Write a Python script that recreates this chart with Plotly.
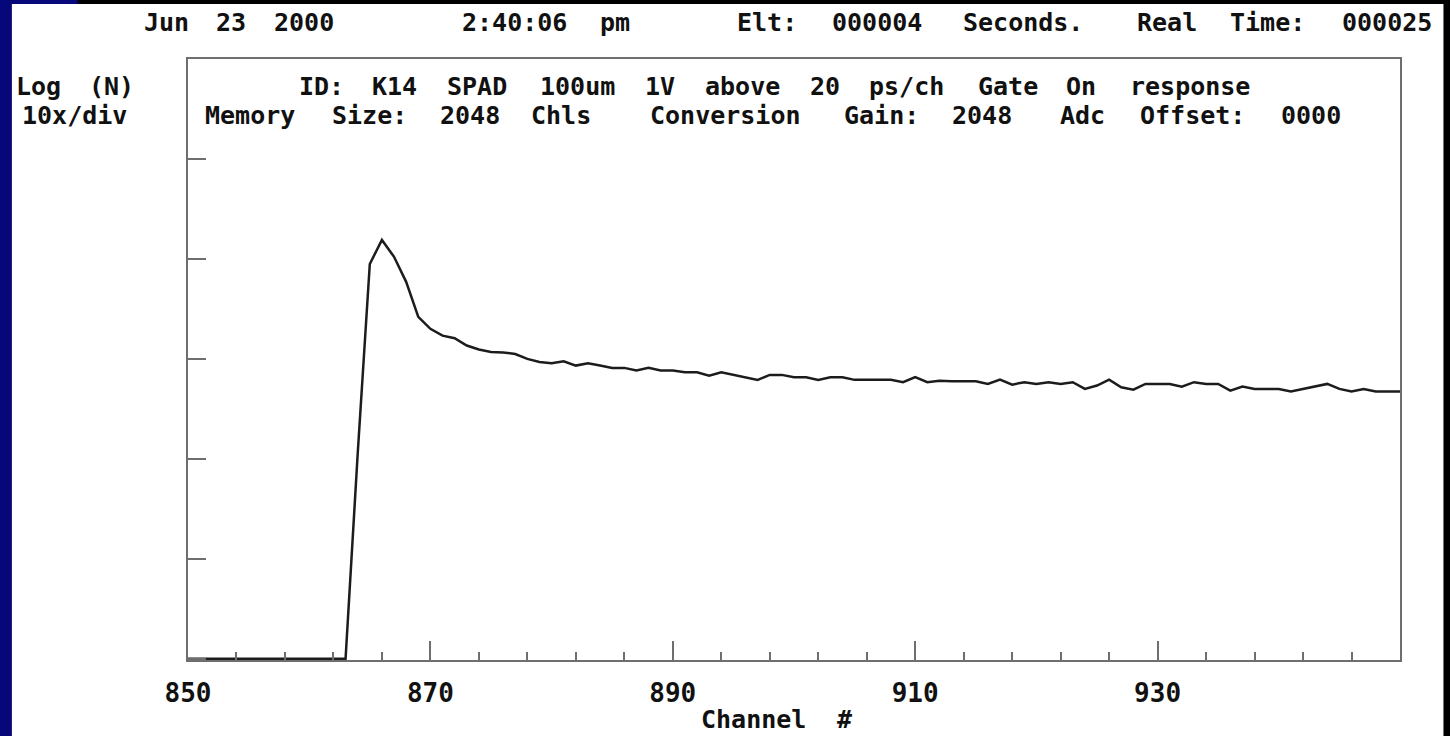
import re
import plotly.graph_objects as go

# ---------------- data ----------------
channels = list(range(850, 951))
counts = [
    1, 1, 1, 1, 1, 1, 1, 1, 1, 1, 1, 1, 1, 1,          # 850-863 (empty)
    112, 8900, 15500, 10500, 5900, 2630,                # 864-869
    2000, 1710, 1610, 1360, 1240, 1175, 1160, 1120, 1000, 933,   # 870-879
    906, 948, 857, 906, 857, 813, 813, 764, 813, 764,   # 880-889
    764, 736, 736, 681, 736, 692, 656, 617, 692, 692,   # 890-899
    656, 656, 617, 656, 656, 617, 617, 617, 617, 585,   # 900-909
    656, 585, 603, 598, 598, 598, 562, 621, 553, 585,   # 910-919
    562, 585, 562, 585, 501, 541, 621, 521, 493, 562,   # 920-929
    562, 562, 528, 585, 562, 562, 482, 528, 501, 501,   # 930-939
    501, 471, 501, 528, 562, 501, 471, 501, 471, 471,   # 940-949
    471,                                                # 950
]

x_major_ticks = [850, 870, 890, 910, 930, 950]
x_major_labels = ["850", "870", "890", "910", "930", ""]
y_decades = [1, 10, 100, 1000, 10000, 100000, 1000000]

header_texts = ["Jun 23 2000", "2:40:06 pm", "Elt: 000004 Seconds.", "Real Time: 000025"]
y_label_lines = ["Log (N)", "10x/div"]
id_line = "ID: K14 SPAD 100um 1V above 20 ps/ch Gate On response"
info_line = "Memory Size: 2048 Chls  Conversion Gain: 2048  Adc Offset: 0000"
x_title = "Channel #"

# ---------------- geometry ----------------
FIG_W, FIG_H = 1450, 736
L, R, T, B = 187.5, 49.5, 59, 76
PW = FIG_W - L - R
PH = FIG_H - T - B
CELL = 18.3

FONT = "DejaVu Sans Mono"
TXT = "#111111"
FRAME = "#6e6e6e"
FS = 25


def px_x(px):
    return (px - L) / PW


def px_y(py):
    return (FIG_H - B - py) / PH


annotations = []


def place_words(text, cell_x, y_center, size=FS):
    for m in re.finditer(r"\S+", text):
        word = m.group(0)
        cx = cell_x + (m.start() + len(word) / 2.0) * CELL
        annotations.append(dict(
            x=px_x(cx), y=px_y(y_center), xref="paper", yref="paper",
            text=word, showarrow=False, xanchor="center", yanchor="middle",
            font=dict(family=FONT, size=size, color=TXT, weight="bold"),
        ))


header_cells = [139, 450, 730.5, 1131]
for t, cx in zip(header_texts, header_cells):
    place_words(t, cx, 22)
place_words(y_label_lines[0], 10, 87)
place_words(y_label_lines[1], 10, 115)
place_words(id_line, 294, 87)
place_words(info_line, 195, 115)
place_words(x_title, 689, 719)

shapes = [
    # white slide area
    dict(type="rect", xref="paper", yref="paper", layer="below",
         x0=px_x(11), x1=px_x(1444), y0=px_y(FIG_H + 2), y1=px_y(4),
         fillcolor="white", line=dict(width=0)),
    # navy left edge
    dict(type="rect", xref="paper", yref="paper", layer="below",
         x0=px_x(-2), x1=px_x(11), y0=px_y(FIG_H + 2), y1=px_y(-2),
         fillcolor="#07077c", line=dict(width=0)),
    dict(type="rect", xref="paper", yref="paper", layer="below",
         x0=px_x(-2), x1=px_x(77), y0=px_y(4), y1=px_y(-2),
         fillcolor="#07077c", line=dict(width=0)),
]

fig = go.Figure()
fig.add_trace(go.Scatter(
    x=channels, y=counts, mode="lines",
    line=dict(color="#1c1c1c", width=2.5, shape="linear"),
    showlegend=False, hoverinfo="x+y",
))

fig.update_layout(
    width=FIG_W, height=FIG_H,
    margin=dict(l=L, r=R, t=T, b=B, pad=0),
    paper_bgcolor="#000000",
    plot_bgcolor="rgba(0,0,0,0)",
    showlegend=False,
    shapes=shapes,
    annotations=annotations,
    xaxis=dict(
        range=[850, 950], showgrid=False, zeroline=False,
        showline=True, linecolor=FRAME, linewidth=2, mirror=True,
        tickmode="array", tickvals=x_major_ticks, ticktext=x_major_labels,
        ticks="inside", ticklen=19, tickwidth=2, tickcolor=FRAME,
        tickfont=dict(family=FONT, size=26, color=TXT, weight="bold"),
        ticklabelstandoff=9,
        minor=dict(tickmode="linear", tick0=850, dtick=4, ticks="inside",
                   ticklen=8, tickwidth=2, tickcolor=FRAME),
    ),
    yaxis=dict(
        type="log", range=[-0.012, 6.0], showgrid=False, zeroline=False,
        showline=True, linecolor=FRAME, linewidth=2, mirror=True,
        tickmode="array", tickvals=y_decades, showticklabels=False,
        ticks="inside", ticklen=18, tickwidth=2, tickcolor=FRAME,
    ),
)

fig.write_html(
    "out.html",
    config={"displayModeBar": False},
    post_script="document.body.style.margin='0';document.body.style.overflow='hidden';",
)
